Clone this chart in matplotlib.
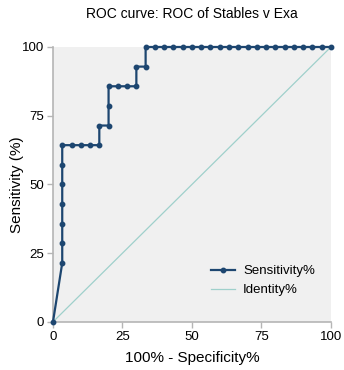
import matplotlib
matplotlib.use("Agg")
import matplotlib.pyplot as plt

plt.rcParams["font.family"] = ["Liberation Sans", "DejaVu Sans"]

# 100% - Specificity% and Sensitivity% for each threshold
fpr = [0, 3.33, 3.33, 3.33, 3.33, 3.33, 3.33, 3.33, 6.67, 10.0, 13.33,
       16.67, 16.67, 20.0, 20.0, 20.0, 23.33, 26.67, 30.0, 30.0, 33.33,
       33.33, 36.67, 40.0, 43.33, 46.67, 50.0, 53.33, 56.67, 60.0, 63.33,
       66.67, 70.0, 73.33, 76.67, 80.0, 83.33, 86.67, 90.0, 93.33, 96.67,
       100.0]
sens = [0, 21.43, 28.57, 35.71, 42.86, 50.0, 57.14, 64.29, 64.29, 64.29,
        64.29, 64.29, 71.43, 71.43, 78.57, 85.71, 85.71, 85.71, 85.71,
        92.86, 92.86, 100, 100, 100, 100, 100, 100, 100, 100, 100, 100,
        100, 100, 100, 100, 100, 100, 100, 100, 100, 100, 100]
identity = [0, 100]
ticks = [0, 25, 50, 75, 100]

fig = plt.figure(figsize=(3.44, 3.70), dpi=100)
ax = fig.add_axes([0.154, 0.130, 0.808, 0.743])
ax.set_facecolor("#f0f0f0")

ax.plot(identity, identity, color="#9fd0cb", linewidth=0.9, label="Identity%")
ax.plot(fpr, sens, color="#1d4670", linewidth=1.6, marker="o",
        markersize=3.2, label="Sensitivity%", clip_on=False, zorder=3)

ax.set_xlim(0, 100)
ax.set_ylim(0, 100)
ax.set_xticks(ticks)
ax.set_yticks(ticks)

for side in ["top", "right"]:
    ax.spines[side].set_visible(False)
for side in ["left", "bottom"]:
    ax.spines[side].set_color("#b5b5b5")
    ax.spines[side].set_linewidth(1.2)
ax.tick_params(colors="#b5b5b5", labelcolor="black", labelsize=9.5,
               length=4, width=1.0, pad=2.5)

ax.set_title("ROC curve: ROC of Stables v Exa", fontsize=10, pad=21)
ax.set_xlabel("100% - Specificity%", fontsize=11, labelpad=6)
ax.set_ylabel("Sensitivity (%)", fontsize=11, labelpad=-2)

handles, labels = ax.get_legend_handles_labels()
ax.legend(handles[::-1], labels[::-1], loc="lower right", frameon=False,
          fontsize=9.5, bbox_to_anchor=(0.985, 0.05), handlelength=1.8,
          handletextpad=0.6)

fig.savefig("out.png")
